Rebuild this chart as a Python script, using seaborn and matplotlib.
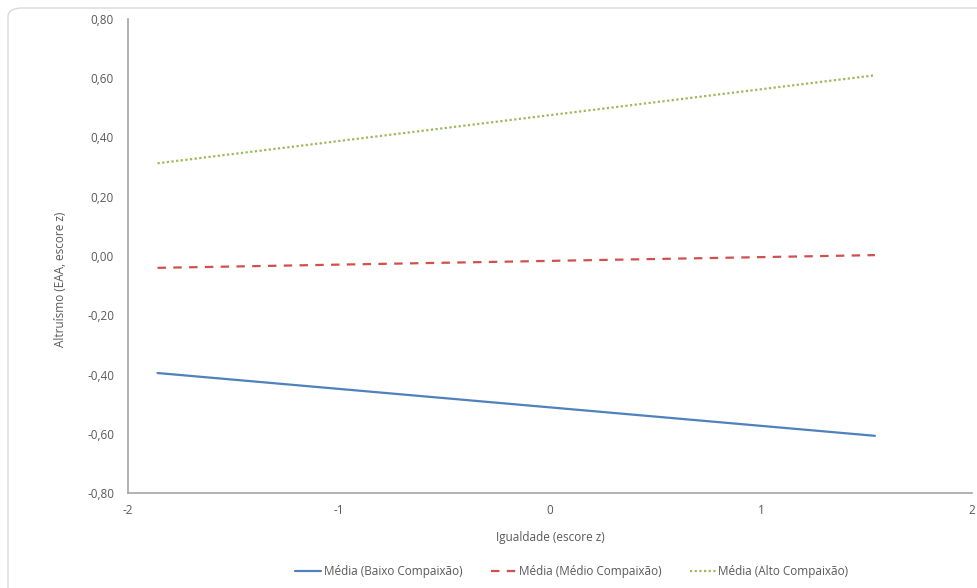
import pandas as pd
import matplotlib.pyplot as plt
import seaborn as sns
from matplotlib.patches import FancyBboxPatch
from matplotlib.ticker import FuncFormatter

# dados
igualdade = [-1.86, 1.54]
baixo = [-0.395, -0.607]
medio = [-0.040, 0.003]
alto = [0.313, 0.610]
nomes = ["Média (Baixo Compaixão)", "Média (Médio Compaixão)", "Média (Alto Compaixão)"]
cores = ["#4f81bd", "#d0504d", "#9bbb59"]

df = pd.concat([
    pd.DataFrame({"x": igualdade, "y": baixo, "serie": nomes[0]}),
    pd.DataFrame({"x": igualdade, "y": medio, "serie": nomes[1]}),
    pd.DataFrame({"x": igualdade, "y": alto, "serie": nomes[2]}),
])

sns.set_style("white")
plt.rcParams["font.family"] = ["Open Sans", "DejaVu Sans"]
cinza = "#595959"

fig = plt.figure(figsize=(9.78, 5.88), dpi=100)
moldura = FancyBboxPatch((8 / 978, -0.05), 1.05, 1.05 - 8 / 588,
                         boxstyle="round,pad=0,rounding_size=0.015",
                         transform=fig.transFigure, facecolor="white",
                         edgecolor="#d9d9d9", linewidth=1, zorder=-5)
fig.add_artist(moldura)
ax = fig.add_axes([128 / 978, 1 - 493 / 588, (972 - 128) / 978, (493 - 19) / 588])
ax.set_facecolor("none")
ax.set_zorder(2)

sns.lineplot(data=df, x="x", y="y", hue="serie", style="serie",
             palette=dict(zip(nomes, cores)),
             dashes={nomes[0]: "", nomes[1]: (3.8, 3.3), nomes[2]: (1, 1.1)},
             linewidth=1.6, ax=ax)

ax.set_xlim(-2, 2)
ax.set_ylim(-0.8, 0.8)
ax.set_xticks([-2, -1, 0, 1, 2])
ax.set_yticks([-0.8, -0.6, -0.4, -0.2, 0, 0.2, 0.4, 0.6, 0.8])
ax.yaxis.set_major_formatter(FuncFormatter(lambda v, p: f"{v:.2f}".replace(".", ",").replace("-0,00", "0,00")))
ax.xaxis.set_major_formatter(FuncFormatter(lambda v, p: f"{v:.0f}"))
ax.tick_params(colors=cinza, labelsize=8.5, length=0, pad=10)
ax.tick_params(axis="x", pad=8)
for s in ["top", "right"]:
    ax.spines[s].set_visible(False)
for s in ["left", "bottom"]:
    ax.spines[s].set_color("#a6a6a6")
    ax.spines[s].set_linewidth(1.2)

ax.set_xlabel("Igualdade (escore z)", color=cinza, fontsize=8.5, labelpad=10)
ax.set_ylabel("Altruísmo (EAA, escore z)", color=cinza, fontsize=8.5)
ax.yaxis.set_label_coords(-0.072, 0.45)

ax.legend(loc="upper center", bbox_to_anchor=(0.526, -0.13), ncol=3, frameon=False,
          fontsize=8.5, labelcolor=cinza, handlelength=2.2, handletextpad=0.2,
          columnspacing=2.4)

plt.savefig("out.png", dpi=100)
